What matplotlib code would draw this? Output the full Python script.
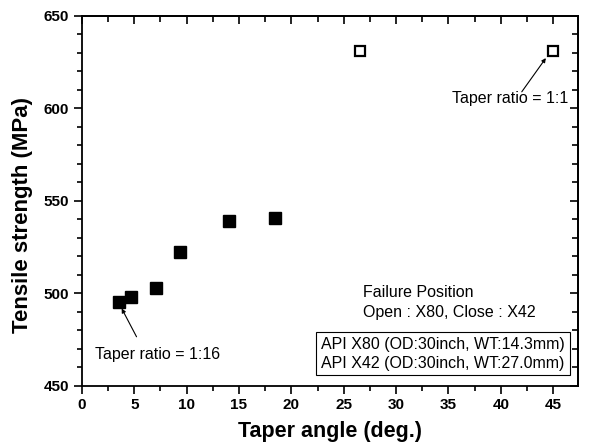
import numpy as np
import matplotlib
matplotlib.use("Agg")
import matplotlib.pyplot as plt
from matplotlib.ticker import MultipleLocator

plt.rcParams['font.family'] = ['Liberation Sans', 'DejaVu Sans']

# X80 failure (filled) and X42 failure (open)
angle_open_x80 = [3.5, 4.7, 7.1, 9.4, 14.0, 18.4]
ts_open_x80 = [495.3, 497.8, 502.6, 522.5, 539.0, 540.5]
angle_close_x42 = [26.6, 45.0]
ts_close_x42 = [630.6, 630.6]

fig = plt.figure(figsize=(5.89, 4.43), dpi=100)
ax = fig.add_axes([0.139, 0.129, 0.842, 0.836])

ax.plot(angle_open_x80, ts_open_x80, 's', color='black', ms=8.5, mec='black')
ax.plot(angle_close_x42, ts_close_x42, 's', mfc='white', mec='black', ms=6.8, mew=1.6)

ax.set_xlim(0, 47.35)
ax.set_ylim(450, 650)
ax.xaxis.set_major_locator(MultipleLocator(5))
ax.xaxis.set_minor_locator(MultipleLocator(2.5))
ax.yaxis.set_major_locator(MultipleLocator(50))
ax.yaxis.set_minor_locator(MultipleLocator(10))
ax.tick_params(which='both', direction='out', width=1.2)
ax.tick_params(which='major', length=6, labelsize=11, pad=3)
ax.tick_params(which='minor', length=3.5)
for lab in ax.get_xticklabels() + ax.get_yticklabels():
    lab.set_fontweight('bold')
for s in ax.spines.values():
    s.set_linewidth(1.3)

# mirrored ticks pointing inward on top and right
top = ax.secondary_xaxis('top')
top.xaxis.set_major_locator(MultipleLocator(5))
top.xaxis.set_minor_locator(MultipleLocator(2.5))
top.tick_params(which='both', direction='in', width=1.2, labeltop=False)
top.tick_params(which='major', length=6)
top.tick_params(which='minor', length=4)
right = ax.secondary_yaxis('right')
right.yaxis.set_major_locator(MultipleLocator(50))
right.yaxis.set_minor_locator(MultipleLocator(10))
right.tick_params(which='both', direction='in', width=1.2, labelright=False)
right.tick_params(which='major', length=6)
right.tick_params(which='minor', length=4)
for sa in (top, right):
    for s in sa.spines.values():
        s.set_linewidth(1.3)

ax.set_xlabel('Taper angle (deg.)', fontsize=15.5, fontweight='bold', labelpad=6)
ax.set_ylabel('Tensile strength (MPa)', fontsize=16, fontweight='bold')
ax.yaxis.set_label_coords(-0.098, 0.46)

ax.text(46.4, 605.3, 'Taper ratio = 1:1', ha='right', va='center', fontsize=11.5)
ax.annotate('', xy=(44.3, 627), xytext=(42.0, 608.8),
            arrowprops=dict(arrowstyle='-|>', color='black', lw=0.8, mutation_scale=6,
                            shrinkA=0, shrinkB=0))
ax.text(1.25, 467.0, 'Taper ratio = 1:16', ha='left', va='center', fontsize=11.5)
ax.annotate('', xy=(3.8, 491.8), xytext=(5.22, 476.5),
            arrowprops=dict(arrowstyle='-|>', color='black', lw=0.8, mutation_scale=6,
                            shrinkA=0, shrinkB=0))

ax.text(26.84, 497.9, 'Failure Position', fontsize=11.5, va='baseline')
ax.text(26.84, 487.3, 'Open : X80, Close : X42', fontsize=11.5, va='baseline')
ax.text(46.1, 467.3, 'API X80 (OD:30inch, WT:14.3mm)\nAPI X42 (OD:30inch, WT:27.0mm)',
        fontsize=11.5, va='center', ha='right', linespacing=1.3,
        bbox=dict(boxstyle='square,pad=0.3', fc='white', ec='black', lw=0.8))

fig.savefig('out.png', dpi=100)
